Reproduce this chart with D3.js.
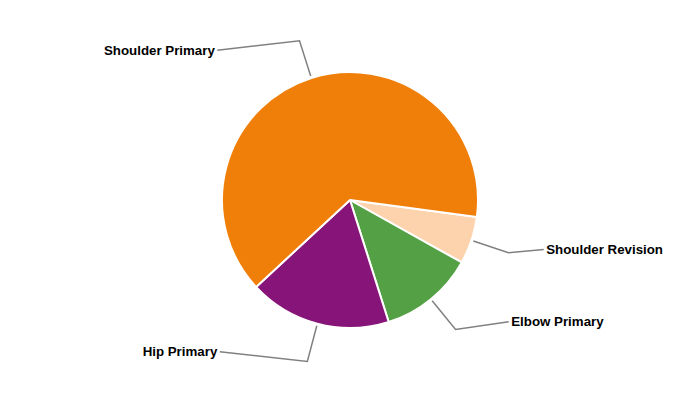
<!DOCTYPE html>
<html><head><meta charset="utf-8">
<script src="https://cdn.jsdelivr.net/npm/d3@7"></script>
<style>body{margin:0;background:#fff}svg{display:block}</style>
</head><body>
<svg id="c" width="700" height="400"></svg>
<script>
const categories = ["Shoulder Revision", "Elbow Primary", "Hip Primary", "Shoulder Primary"];
const values = [6, 12, 18, 64];
const colors = ["#FDD3AE", "#54A045", "#871579", "#F07F09"];

const W = 700, H = 400, cx = 350, cy = 200, R = 128;
const startDeg = 97.6;
const svg = d3.select("#c");
const g = svg.append("g").attr("transform", `translate(${cx},${cy})`);

const pie = d3.pie().sort(null).value(d => d.v)
  .startAngle(startDeg * Math.PI / 180)
  .endAngle((startDeg + 360) * Math.PI / 180);
const data = categories.map((c, i) => ({c, v: values[i], col: colors[i]}));
const arcs = pie(data);
const arc = d3.arc().innerRadius(0).outerRadius(R);

g.selectAll("path.s").data(arcs).join("path")
  .attr("class", "s")
  .attr("d", arc)
  .attr("fill", d => d.data.col)
  .attr("stroke", "#fff").attr("stroke-width", 2).attr("stroke-linejoin", "round");

const labelR = 200;
arcs.forEach(d => {
  const a = (d.startAngle + d.endAngle) / 2;
  const sx = Math.sin(a), sy = -Math.cos(a);
  const p0 = [130 * sx, 130 * sy];
  const p1 = [167 * sx, 167 * sy];
  const ly = 157 * sy;
  const side = sx >= 0 ? 1 : -1;
  const lx = side * Math.sqrt(labelR * labelR - ly * ly);
  g.append("polyline")
    .attr("points", [p0, p1, [lx, ly]].map(p => p.join(",")).join(" "))
    .attr("fill", "none").attr("stroke", "#808080").attr("stroke-width", 1.5);
  g.append("text")
    .attr("x", lx + side * 2.5).attr("y", ly)
    .attr("dy", "0.33em")
    .attr("text-anchor", side > 0 ? "start" : "end")
    .attr("font-family", "'Liberation Sans', Arial, sans-serif")
    .attr("font-weight", "bold").attr("font-size", 13.3)
    .attr("fill", "#000")
    .text(d.data.c);
});
</script>
</body></html>
